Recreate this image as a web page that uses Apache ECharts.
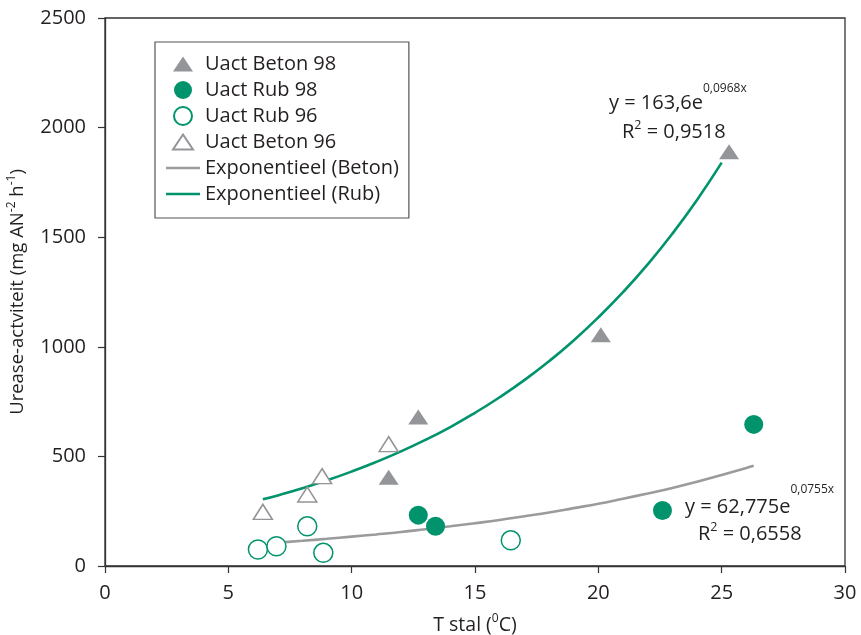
<!DOCTYPE html>
<html>
<head>
<meta charset="utf-8">
<script src="https://cdn.jsdelivr.net/npm/echarts@6/dist/echarts.min.js"></script>
<style>
  html, body { margin: 0; padding: 0; background: #fff; }
  #chart { width: 861px; height: 635px; }
</style>
</head>
<body>
<div id="chart"></div>
<script>
// Measured points: [T stal (°C), urease activity]
const beton98 = [[12.7, 680], [11.5, 405], [20.1, 1055], [25.3, 1890]];
const rub98 = [[12.7, 232], [13.4, 181], [22.6, 253], [26.3, 646]];
const rub96 = [[6.2, 75], [6.95, 90], [8.2, 181], [8.85, 60], [16.45, 117]];
const beton96 = [[6.4, 247], [8.2, 326], [8.8, 410], [11.5, 556]];

// Exponential trend lines, sampled along temperature
const trendRubX = [6.4, 7, 8, 9, 10, 11, 12, 13, 14, 15, 16, 17, 18, 19, 20, 21, 22, 23, 24, 25];
const trendRubY = [304, 322, 355, 391, 431, 475, 523, 576, 634, 699, 770, 848, 934, 1029, 1134, 1249, 1376, 1516, 1670, 1840];
const trendBetonX = [7.3, 8, 9, 10, 11, 12, 13, 14, 15, 16, 17, 18, 19, 20, 21, 22, 23, 24, 25, 26, 26.3];
const trendBetonY = [109, 115, 124, 134, 144, 155, 168, 181, 195, 210, 227, 244, 264, 284, 307, 331, 356, 384, 415, 447, 457];

const xTicks = { min: 0, max: 30, interval: 5 };
const yTicks = { min: 0, max: 2500, interval: 500 };

const GREEN = '#00936c';
const GREY = '#939598';
const GREY_LINE = '#9b9b9d';
const INK = '#231f20';
const FONT = 'Open Sans';

const zip = (xs, ys) => xs.map((x, i) => [x, ys[i]]);

// Legend glyphs: a flat triangle inside a taller box, and a short thick stroke for the fits
const TRI_ICON = 'path://M0,0M10,1.5L20,16.5L0,16.5ZM20,18';
const LINE_ICON = 'path://M0,0H34V2.6H0Z';

const chart = echarts.init(document.getElementById('chart'), null, { renderer: 'canvas' });

const axisCommon = {
  axisLine: { show: true, lineStyle: { color: '#333', width: 1.3 } },
  axisTick: { show: true, inside: false, length: 7, lineStyle: { color: '#333', width: 1.2 } },
  splitLine: { show: false },
  axisLabel: { color: INK, fontSize: 20, fontFamily: FONT, formatter: (v) => String(v) }
};

const supRich = { s: { fontSize: 12, lineHeight: 12, verticalAlign: 'top', fontFamily: FONT, color: INK } };

chart.setOption({
  animation: false,
  backgroundColor: '#fff',
  textStyle: { fontFamily: FONT, color: INK },
  grid: {
    left: 105, right: 16, top: 18, bottom: 69,
    containLabel: false,
    outerBoundsMode: 'none',
    show: true, borderColor: '#333', borderWidth: 1.3, backgroundColor: 'transparent'
  },
  xAxis: Object.assign({}, axisCommon, {
    type: 'value',
    min: xTicks.min, max: xTicks.max, interval: xTicks.interval,
    name: 'T stal ({s|0}C)',
    nameLocation: 'middle',
    nameGap: 47,
    nameTextStyle: { color: INK, fontSize: 19.5, fontFamily: FONT, lineHeight: 24, rich: supRich },
    axisLabel: Object.assign({}, axisCommon.axisLabel, { margin: 17 })
  }),
  yAxis: Object.assign({}, axisCommon, {
    type: 'value',
    min: yTicks.min, max: yTicks.max, interval: yTicks.interval,
    name: 'Urease-actviteit (mg AN{s|-2} h{s|-1})',
    nameLocation: 'middle',
    nameGap: 66,
    nameTextStyle: { color: INK, fontSize: 18.5, fontFamily: FONT, lineHeight: 24, rich: supRich },
    axisLabel: Object.assign({}, axisCommon.axisLabel, { margin: 19 })
  }),
  legend: {
    orient: 'vertical',
    left: 155, top: 42,
    padding: [12, 10, 14, 11],
    borderColor: '#555', borderWidth: 1.2,
    backgroundColor: '#fff',
    itemWidth: 34, itemHeight: 18, itemGap: 6,
    textStyle: { fontSize: 20, fontFamily: FONT, color: INK, lineHeight: 18 },
    data: [
      { name: 'Uact Beton 98', icon: TRI_ICON },
      { name: 'Uact Rub 98', icon: 'circle' },
      { name: 'Uact Rub 96', icon: 'circle' },
      { name: 'Uact Beton 96', icon: TRI_ICON },
      { name: 'Exponentieel (Beton)', icon: LINE_ICON, itemStyle: { color: GREY_LINE, borderWidth: 0 } },
      { name: 'Exponentieel (Rub)', icon: LINE_ICON, itemStyle: { color: GREEN, borderWidth: 0 } }
    ]
  },
  graphic: [
    {
      type: 'text', left: 609, top: 83, z: 10,
      style: {
        text: '{b|y = 163,6e}{e|0,0968x}',
        rich: {
          b: { fontSize: 20, lineHeight: 40, fontFamily: FONT, fill: INK },
          e: { fontSize: 12, lineHeight: 14, verticalAlign: 'top', fontFamily: FONT, fill: INK }
        }
      }
    },
    {
      type: 'text', left: 622, top: 119, z: 10,
      style: {
        text: '{b|R}{s|2}{b| = 0,9518}',
        rich: {
          b: { fontSize: 20, lineHeight: 26, fontFamily: FONT, fill: INK },
          s: { fontSize: 12.5, lineHeight: 14, verticalAlign: 'top', fontFamily: FONT, fill: INK }
        }
      }
    },
    {
      type: 'text', left: 685, top: 484, z: 10,
      style: {
        text: '{b|y = 62,775e}{e|0,0755x}',
        rich: {
          b: { fontSize: 20, lineHeight: 46, fontFamily: FONT, fill: INK },
          e: { fontSize: 12, lineHeight: 14, verticalAlign: 'top', fontFamily: FONT, fill: INK }
        }
      }
    },
    {
      type: 'text', left: 698, top: 521, z: 10,
      style: {
        text: '{b|R}{s|2}{b| = 0,6558}',
        rich: {
          b: { fontSize: 20, lineHeight: 26, fontFamily: FONT, fill: INK },
          s: { fontSize: 12.5, lineHeight: 14, verticalAlign: 'top', fontFamily: FONT, fill: INK }
        }
      }
    }
  ],
  series: [
    {
      name: 'Exponentieel (Beton)', type: 'line', smooth: true, symbol: 'none', z: 1,
      lineStyle: { color: GREY_LINE, width: 2.6 }, itemStyle: { color: GREY_LINE },
      data: zip(trendBetonX, trendBetonY)
    },
    {
      name: 'Exponentieel (Rub)', type: 'line', smooth: true, symbol: 'none', z: 1,
      lineStyle: { color: GREEN, width: 2.6 }, itemStyle: { color: GREEN },
      data: zip(trendRubX, trendRubY)
    },
    {
      name: 'Uact Beton 98', type: 'scatter', symbol: 'triangle', symbolSize: [20, 15], z: 3,
      itemStyle: { color: GREY, opacity: 1 },
      data: beton98
    },
    {
      name: 'Uact Rub 98', type: 'scatter', symbol: 'circle', symbolSize: 19, z: 3,
      itemStyle: { color: GREEN, opacity: 1 },
      data: rub98
    },
    {
      name: 'Uact Rub 96', type: 'scatter', symbol: 'circle', symbolSize: 19, z: 3,
      itemStyle: { color: '#fff', borderColor: GREEN, borderWidth: 1.5, opacity: 1 },
      data: rub96
    },
    {
      name: 'Uact Beton 96', type: 'scatter', symbol: 'triangle', symbolSize: [19, 15], z: 3,
      itemStyle: { color: '#fff', borderColor: GREY, borderWidth: 1.5, opacity: 1 },
      data: beton96
    }
  ]
});
</script>
</body>
</html>
